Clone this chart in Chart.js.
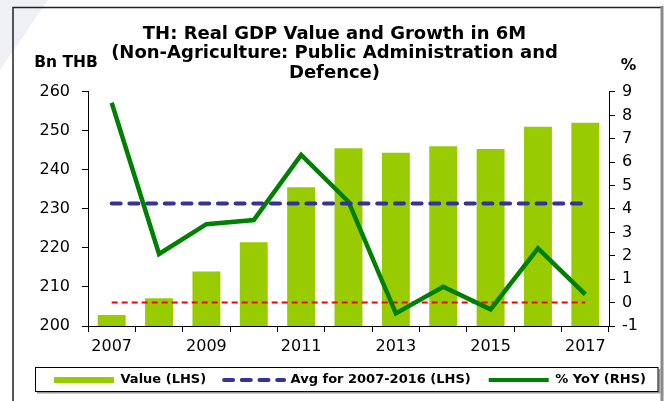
<!DOCTYPE html>
<html>
<head>
<meta charset="utf-8">
<script src="https://cdn.jsdelivr.net/npm/chart.js@4/dist/chart.umd.min.js"></script>
<style>
html,body{margin:0;padding:0;background:#fff;}
#wrap{width:669px;height:401px;position:relative;overflow:hidden;}
</style>
</head>
<body>
<div id="wrap"><canvas id="c" width="669" height="401"></canvas></div>
<script>
// ---- data ----
const years = ['2007','2008','2009','2010','2011','2012','2013','2014','2015','2016','2017'];
const valueLHS = [202.8, 207.1, 214.0, 221.5, 235.6, 245.6, 244.4, 246.1, 245.4, 251.1, 252.1];
const avgLHS = [231.4, 231.4, 231.4, 231.4, 231.4, 231.4, 231.4, 231.4, 231.4, 231.4, 231.4];
const yoyRHS = [8.54, 2.08, 3.35, 3.53, 6.31, 4.31, -0.46, 0.68, -0.29, 2.32, 0.35];
const zeroRHS = [0, 0, 0, 0, 0, 0, 0, 0, 0, 0, 0];
const leftTicks = [200, 210, 220, 230, 240, 250, 260];
const rightTicks = [-1, 0, 1, 2, 3, 4, 5, 6, 7, 8, 9];
const titleLines = ['TH: Real GDP Value and Growth in 6M', '(Non-Agriculture: Public Administration and', 'Defence)'];
const legendNames = ['Value (LHS)', 'Avg for 2007-2016 (LHS)', '% YoY (RHS)'];
const leftUnit = 'Bn THB';
const rightUnit = '%';

const FONT = 'DejaVu Sans';

const framePlugin = {
  id: 'frame',
  beforeDraw(chart) {
    const ctx = chart.ctx;
    ctx.save();
    ctx.fillStyle = '#ffffff';
    ctx.fillRect(0, 0, chart.width, chart.height);
    // faint watermark at top-left
    ctx.fillStyle = '#eef0f6';
    ctx.beginPath();
    ctx.moveTo(0, 0); ctx.lineTo(48, 0); ctx.lineTo(0, 70); ctx.closePath();
    ctx.fill();
    // outer frame
    ctx.strokeStyle = '#222';
    ctx.lineWidth = 1.5;
    ctx.beginPath();
    ctx.moveTo(13, 402); ctx.lineTo(13, 7.5); ctx.lineTo(661, 7.5);
    ctx.stroke();
    ctx.strokeStyle = '#8a8a8a';
    ctx.lineWidth = 3;
    ctx.beginPath();
    ctx.moveTo(662, 6); ctx.lineTo(662, 402);
    ctx.stroke();
    ctx.restore();
  },
  afterLayout(chart) {
    if (chart.legend) { chart.legend.left = 31; }
  },
  afterDraw(chart) {
    const ctx = chart.ctx;
    ctx.save();
    ctx.fillStyle = '#000';
    ctx.font = 'bold 15.5px "' + FONT + '"';
    ctx.textAlign = 'center';
    ctx.textBaseline = 'middle';
    ctx.fillText(leftUnit, 66, 63);
    ctx.fillText(rightUnit, 628.5, 66);
    // legend box
    ctx.strokeStyle = '#9a9a9a';
    ctx.lineWidth = 2;
    ctx.beginPath();
    ctx.moveTo(37, 392.5); ctx.lineTo(659.5, 392.5); ctx.lineTo(659.5, 369);
    ctx.stroke();
    ctx.strokeStyle = '#000';
    ctx.lineWidth = 1;
    ctx.strokeRect(35.5, 367.5, 622.5, 24);
    ctx.restore();
  }
};

new Chart(document.getElementById('c'), {
  type: 'bar',
  data: {
    labels: years,
    datasets: [
      {
        type: 'bar', label: legendNames[0], data: valueLHS, yAxisID: 'y',
        backgroundColor: '#99CC00', borderWidth: 0,
        barPercentage: 0.59, categoryPercentage: 1.0, order: 4
      },
      {
        type: 'line', label: legendNames[1], data: avgLHS, yAxisID: 'y',
        borderColor: '#333399', borderWidth: 4, borderDash: [9, 8.7], borderCapStyle: 'round',
        pointRadius: 0, fill: false, order: 1
      },
      {
        type: 'line', label: legendNames[2], data: yoyRHS, yAxisID: 'y1',
        borderColor: '#008000', borderWidth: 4.5, pointRadius: 0, fill: false,
        tension: 0, order: 2
      },
      {
        type: 'line', label: 'zero', data: zeroRHS, yAxisID: 'y1',
        borderColor: '#FF0000', borderWidth: 2, borderDash: [6, 4],
        pointRadius: 0, fill: false, order: 3
      }
    ]
  },
  options: {
    responsive: false,
    devicePixelRatio: 1,
    animation: false,
    layout: { padding: { top: 0, left: 0, right: 0, bottom: 4.5 } },
    plugins: {
      tooltip: { enabled: false },
      title: {
        display: true,
        text: titleLines,
        color: '#000',
        font: { family: FONT, size: 18, weight: 'bold', lineHeight: 1.083 },
        padding: { top: 24.25, bottom: 9.25 }
      },
      legend: {
        position: 'bottom',
        labels: {
          usePointStyle: true,
          pointStyleWidth: 60,
          boxHeight: 6,
          padding: 18,
          color: '#000',
          font: { family: FONT, size: 13, weight: 'bold' },
          generateLabels: () => [
            { text: legendNames[0], pointStyle: 'rect', fillStyle: '#99CC00', strokeStyle: '#99CC00', lineWidth: 0, datasetIndex: 0, hidden: false },
            { text: legendNames[1], pointStyle: 'line', fillStyle: '#333399', strokeStyle: '#333399', lineWidth: 4, lineDash: [9, 8.7], lineCap: 'round', datasetIndex: 1, hidden: false },
            { text: legendNames[2], pointStyle: 'line', fillStyle: '#008000', strokeStyle: '#008000', lineWidth: 4, datasetIndex: 2, hidden: false }
          ]
        }
      }
    },
    scales: {
      x: {
        type: 'category',
        offset: true,
        grid: { display: true, drawOnChartArea: false, drawTicks: true, tickLength: 6, color: '#000', offset: true },
        border: { display: true, color: '#000', width: 1 },
        ticks: {
          color: '#000', font: { family: FONT, size: 16 }, padding: 5,
          autoSkip: false, maxRotation: 0,
          callback: (v, i) => (i % 2 === 0 ? years[i] : '')
        },
        afterFit: (s) => { s.height = 29.5; }
      },
      y: {
        position: 'left',
        min: leftTicks[0], max: leftTicks[leftTicks.length - 1],
        grid: { display: true, drawOnChartArea: false, tickLength: 6, color: '#000' },
        border: { display: true, color: '#000', width: 1 },
        ticks: { stepSize: leftTicks[1] - leftTicks[0], color: '#000', font: { family: FONT, size: 16 }, padding: 12 },
        afterFit: (s) => { s.width = 88; }
      },
      y1: {
        position: 'right',
        min: rightTicks[0], max: rightTicks[rightTicks.length - 1],
        grid: { display: true, drawOnChartArea: false, tickLength: 6, color: '#000' },
        border: { display: true, color: '#000', width: 1 },
        ticks: { stepSize: rightTicks[1] - rightTicks[0], color: '#000', font: { family: FONT, size: 16 }, padding: 7 },
        afterFit: (s) => { s.width = 60; }
      }
    }
  },
  plugins: [framePlugin]
});
</script>
</body>
</html>
